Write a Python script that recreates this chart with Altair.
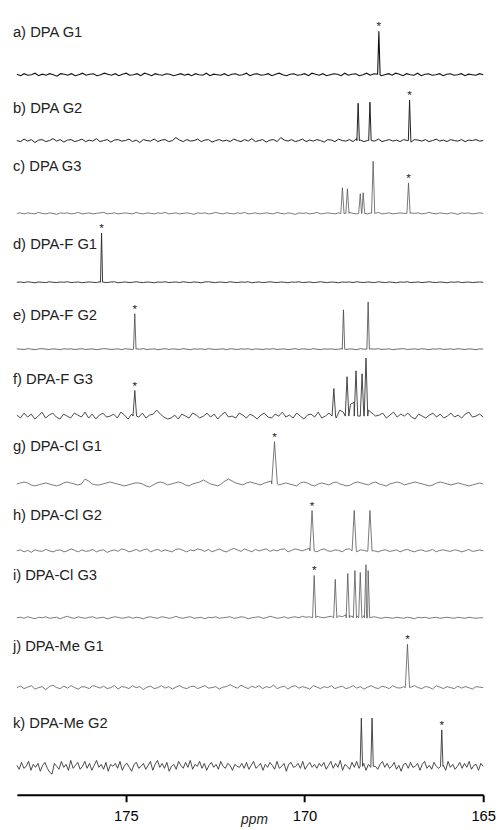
import numpy as np
import pandas as pd
import altair as alt

# ---------------- data ----------------
PPM_LEFT, PPM_RIGHT = 178.05, 165.0

labels = ["a) DPA G1", "b) DPA G2", "c) DPA G3", "d) DPA-F G1", "e) DPA-F G2",
          "f) DPA-F G3", "g) DPA-Cl G1", "h) DPA-Cl G2", "i) DPA-Cl G3",
          "j) DPA-Me G1", "k) DPA-Me G2"]

# peak positions (ppm) and heights (px above the trace baseline)
peak_ppm = [
    [167.92],
    [168.50, 168.17, 167.06],
    [168.94, 168.80, 168.44, 168.36, 168.08, 167.09],
    [175.68],
    [174.75, 168.91, 168.22],
    [174.75, 169.18, 168.81, 168.56, 168.39, 168.28],
    [170.84],
    [169.79, 168.61, 168.17],
    [169.73, 169.14, 168.79, 168.59, 168.44, 168.28, 168.22],
    [167.12],
    [168.41, 168.11, 166.16],
]
peak_height = [
    [44],
    [38, 39, 41],
    [26, 25, 20, 21, 53, 31],
    [50],
    [36, 40, 48],
    [26, 28, 40, 46, 43, 59],
    [43],
    [41, 41, 41],
    [43, 39, 45, 48, 46, 54, 48],
    [44],
    [49, 49, 37],
]
# peak marked with an asterisk in each spectrum
star_ppm = [167.92, 167.06, 167.09, 175.68, 174.75, 174.75, 170.84,
            169.79, 169.73, 167.12, 166.16]

# baseline noise of each trace (px), left (high ppm) to right
noise_a = [0.5,-1,1,-0.5,0,1.5,-1,0.5,-0.5,1,0,-1.5,1,0.5,-0.5,1,-1,0,1.5,-0.5,
           0.5,1,-1,0,1.5,0.5,-0.5,1,-1,0.5,1.5,-0.5,0,1,-1,1.5,0.5,-1,1,0,
           -0.5,1,0.5,-1,0,1,-0.5,0.5,-1,1,0,-0.5,1.5,-1,0.5,0,-0.5,1,-1,0.5,
           1,-0.5,0,1.5,-1,0.5,1,-0.5,0,1,-1,0.5,1.5,0,-1,0.5,1,-0.5,0,1,
           -1,1.5,0.5,-0.5,1,-1,0,1,0.5,-1,1.5,-0.5,0.5,1,-1,0,1.5,-0.5,1,0.5,
           -1,0,1,-0.5,1.5,0.5,-1,1,0,-0.5,1.5,-1,0.5,1,-0.5,0,1,-1,0.5,1,
           -0.5,0,1,-1,0.5,0,-0.5,1,0]
noise_b = [0,-1,1.5,-0.5,1,-2,0.5,1,-1,0,2,-0.5,1,-1.5,0.5,1,-1,0,1.5,-1,
           0.5,-0.5,2,-1,0,1,-1.5,0.5,1,-0.5,0,1.5,-1,0.5,-2,1,0,-0.5,1.5,-1,
           0.5,1,-1,0,3,0.5,-1,1,-0.5,0,1.5,-1,0.5,1,-1.5,0,1,-0.5,0.5,-1,
           1.5,0,-1,1,-0.5,2,-1,0,1,-1.5,0.5,1,-1,3,0.5,-0.5,1,-1,0,1.5,
           -1,0.5,-0.5,1,0,-1.5,1,0.5,-1,1.5,0,-0.5,1,-1,2,0.5,-1,0,1,-0.5,
           1.5,-1,0,1,-0.5,0.5,-1,1,0,-1.5,1,0.5,-0.5,1,-1,0,1.5,-0.5,0.5,-1,
           1,0,-0.5,1,-1,0.5,0,1,-0.5,0]
noise_c = [0,0.5,-0.5,0.5,0,-0.5,1,0,-0.5,0.5,0,-1,0.5,0,0.5,-0.5,0,1,-0.5,0,
           0.5,-0.5,0,0.5,1,-0.5,0,0.5,-0.5,0,0.5,0,-0.5,1,0,-0.5,0.5,0,-0.5,0.5,
           0,1,-0.5,0,0.5,-0.5,0,0.5,0,-1,0.5,0,0.5,-0.5,0,1,0,-0.5,0.5,0,
           -0.5,0.5,0,1,-0.5,0,0.5,-0.5,0,0.5,0,-0.5,1,0,-0.5,0.5,0,-1,0.5,0,
           0.5,-0.5,0,1,-0.5,0,0.5,0,-0.5,0.5,0,-0.5,1,0,-0.5,0.5,0,-0.5,0.5,0,
           1,-0.5,0,0.5,-0.5,0,0.5,0,-1,0.5,0,0.5,-0.5,0,1,0,-0.5,0.5,0,-0.5,
           0.5,0,-1,0.5,0,0.5,-0.5,0,0.5,0]
noise_d = [0,0.3,-0.3,0.5,0,-0.5,0.3,0,-0.3,0.5,0,-0.3,0.3,0,0.5,-0.3,0,0.3,-0.5,0,
           0.3,0,-0.3,0.5,0,-0.3,0.3,0.5,-0.5,0,0.3,-0.3,0,0.5,0,-0.3,0.3,0,-0.5,0.3,
           0,0.5,-0.3,0,0.3,-0.3,0.5,0,-0.3,0.3,0,-0.5,0.3,0.5,0,-0.3,0.3,0,-0.3,0.5,
           0,-0.3,0.3,0,0.5,-0.5,0,0.3,-0.3,0,0.5,0,-0.3,0.3,0,-0.5,0.3,0,0.5,-0.3,
           0,0.3,-0.3,0,0.5,0,-0.3,0.3,0,-0.5,0.3,0,0.3,-0.3,0.5,0,-0.3,0.3,0,-0.3,
           0.5,0,-0.3,0.3,0,-0.5,0.3,0,0.5,-0.3,0,0.3,-0.3,0,0.5,0,-0.3,0.3,0,-0.5,
           0.3,0,0.5,-0.3,0,0.3,-0.3,0,0.3,0]
noise_e = [0.3,0,-0.3,0.5,0,-0.5,0.3,0.5,0,-0.3,0.3,0,-0.5,0.5,0,0.3,-0.3,0,0.5,-0.3,
           0,0.3,-0.5,0,0.5,0.3,-0.3,0,0.3,-0.5,0.5,0,-0.3,0.3,0,0.5,-0.3,0,0.3,-0.5,
           0,0.5,-0.3,0.3,0,-0.3,0.5,0,-0.5,0.3,0,0.3,-0.3,0.5,0,-0.3,0,0.3,-0.5,0.5,
           0,-0.3,0.3,0,0.5,-0.5,0.3,0,-0.3,0.3,0,0.5,-0.3,0,0.3,-0.5,0,0.5,-0.3,0.3,
           0,-0.3,0.5,0,-0.5,0.3,0,0.3,-0.3,0,0.5,-0.3,0.3,0,-0.5,0.5,0,-0.3,0.3,0,
           0.5,-0.3,0,0.3,-0.5,0,0.3,0.5,-0.3,0,0.3,-0.3,0.5,0,-0.5,0.3,0,0.5,-0.3,0,
           0.3,-0.3,0.5,0,-0.3,0.3,0,-0.5,0.3,0]
noise_f = [1,-2,3,-1,2,-3,0,4,-2,1,3,-1,-3,2,0,-2,3,1,-1,4,
           -2,2,-3,1,3,-1,0,2,-2,4,1,-3,2,0,-1,3,-2,1,2,6,
           2,-1,-3,-2,1,-3,2,0,-2,3,1,-2,0,3,-1,2,-3,1,4,-1,
           0,-2,3,1,-2,2,0,-3,1,3,-1,-2,2,0,4,-1,1,-2,3,0,
           -3,1,2,-1,4,-2,0,3,1,-2,6,4,8,12,14,12,10,12,6,3,
           0,1,3,-2,1,4,-1,2,0,3,-1,-3,2,0,-2,1,3,-1,2,-2,
           0,3,-1,1,-2,2,4,-1,0,2,-1]
noise_g = [0,1,2,1,-1,-2,-1,0,1,0,-1,-2,-1,1,2,1,0,-1,0,5,
           3,0,-1,-1,0,1,2,1,0,-1,-2,-1,0,1,1,0,-2,-3,-1,1,
           2,1,-1,0,1,2,1,-1,-2,0,1,2,4,2,0,-1,-2,0,3,5,
           3,1,0,-1,1,2,1,0,-1,1,2,3,1,-1,0,1,0,-1,-2,1,
           2,1,-1,-2,0,1,0,-1,1,2,0,-1,-2,-1,1,2,1,0,-1,1,
           2,0,-1,-2,0,1,2,1,-1,0,1,2,1,0,-1,-2,-1,1,2,1,
           0,-1,0,1,0,-1,-2,-1,0,1,0]
noise_h = [0,1,-1,0.5,-1.5,1,0,-0.5,1.5,0,-1,0.5,1,-1,0,2,0.5,-1,1,-0.5,
           0,1.5,-1,0.5,1,-1.5,0,1,-0.5,2,1,-1,0,1.5,-0.5,1,2,-1,0.5,1.5,
           -0.5,1,0,-1,1.5,2,0.5,-1,1,0,2,1,-0.5,1.5,-1,0.5,2,0,-1,1,
           2.5,1,-0.5,2,0.5,-1,1.5,0,1,2,-0.5,1,0,1.5,2,-1,0.5,2,1,0,
           1.5,2.5,0.5,-1,1,2,0,-0.5,1,0.5,-1,1.5,2,0,-1,1,0.5,-0.5,1,0,
           -1,0.5,1,-0.5,0,1,-1,0.5,1.5,0,-1,0.5,1,-0.5,0,1.5,-1,0.5,1,0,
           -0.5,1,0.5,-1,0,1.5,-0.5,0,1,0]
noise_i = [0,0.5,-0.5,1,0,-1,0.5,0,1,-0.5,0,0.5,-1,0.5,1.5,0,-0.5,1,0,-0.5,
           0.5,1,-0.5,0,0.5,-1,0,1,0.5,-0.5,0,1,-0.5,0.5,0,-1,0.5,1,0,-0.5,
           1,0.5,-0.5,0,1.5,0,-0.5,0.5,1,-0.5,0,0.5,-1,0.5,0,1,-0.5,0,0.5,1,
           -0.5,0,1,0.5,-1,0,0.5,1,-0.5,0,1.5,0.5,-0.5,0,1,-0.5,0.5,1,0,1.5,
           0.5,1,0,1.5,0.5,0,1,1.5,0.5,2,1,3,2,1,2,3,2,1,0.5,1,
           0,-0.5,0.5,0,-0.5,0.5,0,-0.5,0.5,0,-1,0.5,0,0.5,-0.5,0,0.5,-0.5,0,0.5,
           0,-0.5,0.5,0,-0.5,0.5,0,-0.5,0,0]
noise_j = [0,1.5,-1,0.5,2,-1.5,0,1,-2,1,2.5,0,-1,1.5,-0.5,2,0,-1.5,1,0.5,
           -1,2,1,-0.5,1.5,-1,0,2,-1.5,1,0.5,-1,2,0,1,-2,0.5,1.5,-1,0,
           2,-0.5,1,-1.5,0.5,2,0,-1,1,1.5,-1,0.5,2,-0.5,0,1,-1.5,0.5,1,3,
           1,-0.5,2.5,0.5,-1,1.5,0,2,-1,1,0,2.5,-1,0.5,1.5,-1.5,1,2,-0.5,1,
           0,-1.5,2,0.5,-1,1,0,2,-1,0.5,1.5,-1,0,2,-0.5,1,-1.5,0.5,2,0,
           -1,1.5,0.5,-1,2,0,-0.5,1,-1.5,0.5,2,0,-1,1,0.5,-1.5,2,0.5,-1,1,
           0,-1,1.5,-0.5,1,0,-1.5,1,0.5,0]
noise_k = [1,-3,4,-2,0,5,-4,2,-1,3,-5,1,4,-2,-6,-8,3,0,-3,5,
           -1,2,-4,6,-2,1,4,-3,0,5,-2,3,-4,1,6,-1,2,-3,4,-5,
           2,0,3,-2,5,-4,1,3,-1,-5,2,4,-2,0,3,-3,1,5,-4,2,
           6,-1,3,-2,4,-5,0,2,-3,5,1,-2,4,-1,6,-3,2,0,5,-2,
           3,-4,1,4,-1,2,-3,5,0,-2,3,1,-4,2,0,-1,3,-2,4,-3,
           1,5,-2,0,3,-4,2,-1,4,1,-3,5,-2,0,3,-5,2,4,-1,0,
           3,-2,5,-3,1,4,-1,2,-2,3,0,4,-3,1,5,-2,3,-1,6,-4,
           2,0,-3,4,-1,5,-2,1,3,-4,2,-1,4,0,-3,2,5,-1,3,-2,
           0,4,-3,1,-5,2,3,-2,4,-1,0,3,-4,2,5,-2,1,-3,4,0,
           -2,3,1,-4,5,-1,2,-3,0,4,-2,3,-1,5,-3,1,2,-4,3,0]
noises = [noise_a, noise_b, noise_c, noise_d, noise_e, noise_f,
          noise_g, noise_h, noise_i, noise_j, noise_k]

# ---------------- layout (page pixels) and style ----------------
baseline_y = [69, 136, 210, 280, 348, 416, 485, 553, 621, 692, 772]
label_y = [31, 108, 167, 246, 318, 383, 452, 522, 583, 655, 733]
half_width = [0.035, 0.035, 0.045, 0.03, 0.035, 0.05, 0.08, 0.06, 0.045, 0.06, 0.035]
trace_color = ["#111111", "#1e1e1e", "#555555", "#222222", "#444444", "#333333",
               "#555555", "#555555", "#555555", "#555555", "#333333"]
trace_width = [1.1, 1.0, 0.8, 0.9, 0.8, 0.9, 0.8, 0.8, 0.8, 0.8, 0.9]
PLOT_TOP, PLOT_BOTTOM = 13, 801

rows, stars, labs = [], [], []
for t, lab in enumerate(labels):
    noise = noises[t]
    xs = np.linspace(PPM_LEFT, PPM_RIGHT, len(noise))
    w = half_width[t]
    pts = [(x, v) for x, v in zip(xs, noise)
           if all(abs(x - c) > w for c in peak_ppm[t])]
    for c, h in zip(peak_ppm[t], peak_height[t]):
        pts += [(c + w * 0.99, 0.0), (c, float(h)), (c - w * 0.99, 0.0)]
    pts.sort(key=lambda p: -p[0])
    for i, (x, v) in enumerate(pts):
        rows.append({"trace": lab, "ppm": float(x), "py": baseline_y[t] - v, "k": i,
                     "col": trace_color[t], "sw": trace_width[t]})
    sh = peak_height[t][peak_ppm[t].index(star_ppm[t])]
    stars.append({"ppm": star_ppm[t], "py": baseline_y[t] - sh - 1, "s": "*"})
    labs.append({"label": lab, "py": label_y[t]})

df = pd.DataFrame(rows)
df_star = pd.DataFrame(stars)
df_lab = pd.DataFrame(labs)

xscale = alt.Scale(domain=[PPM_LEFT, PPM_RIGHT], nice=False, zero=False)
yscale = alt.Scale(domain=[PLOT_BOTTOM, PLOT_TOP], nice=False, zero=False)

xaxis = alt.Axis(values=[175, 170, 165], grid=False, tickSize=7, tickWidth=2,
                 domainWidth=2, domainColor="black", tickColor="black",
                 labelFontSize=15, labelFont="Liberation Sans", labelColor="black",
                 labelPadding=7, labelFlush=False,
                 title="ppm", titleFont="Liberation Sans", titleFontStyle="italic",
                 titleFontWeight="normal", titleFontSize=14, titleColor="#222",
                 titleX=241, titleY=29, titleAlign="center", titleBaseline="alphabetic")

lines = alt.Chart(df).mark_line().encode(
    x=alt.X("ppm:Q", scale=xscale, axis=xaxis),
    y=alt.Y("py:Q", scale=yscale, axis=None),
    detail="trace:N",
    color=alt.Color("col:N", scale=None),
    strokeWidth=alt.StrokeWidth("sw:Q", scale=None),
    order="k:Q",
)

star_txt = alt.Chart(df_star).mark_text(text="*", fontSize=12, font="Liberation Sans",
                                        baseline="alphabetic", align="center",
                                        color="#222").encode(
    x=alt.X("ppm:Q", scale=xscale),
    y=alt.Y("py:Q", scale=yscale),
)

label_txt = alt.Chart(df_lab).mark_text(fontSize=15, font="Liberation Sans",
                                        baseline="alphabetic", align="left",
                                        color="#222").encode(
    x=alt.value(-4),
    y=alt.Y("py:Q", scale=yscale),
    text="label:N",
)

chart = alt.layer(lines, star_txt, label_txt).properties(
    width=474, height=PLOT_BOTTOM - PLOT_TOP,
    padding={"left": 5, "top": 5, "right": 0, "bottom": 0},
).configure_view(stroke=None)

chart.save("out.html", embed_options={"renderer": "svg", "actions": False})
